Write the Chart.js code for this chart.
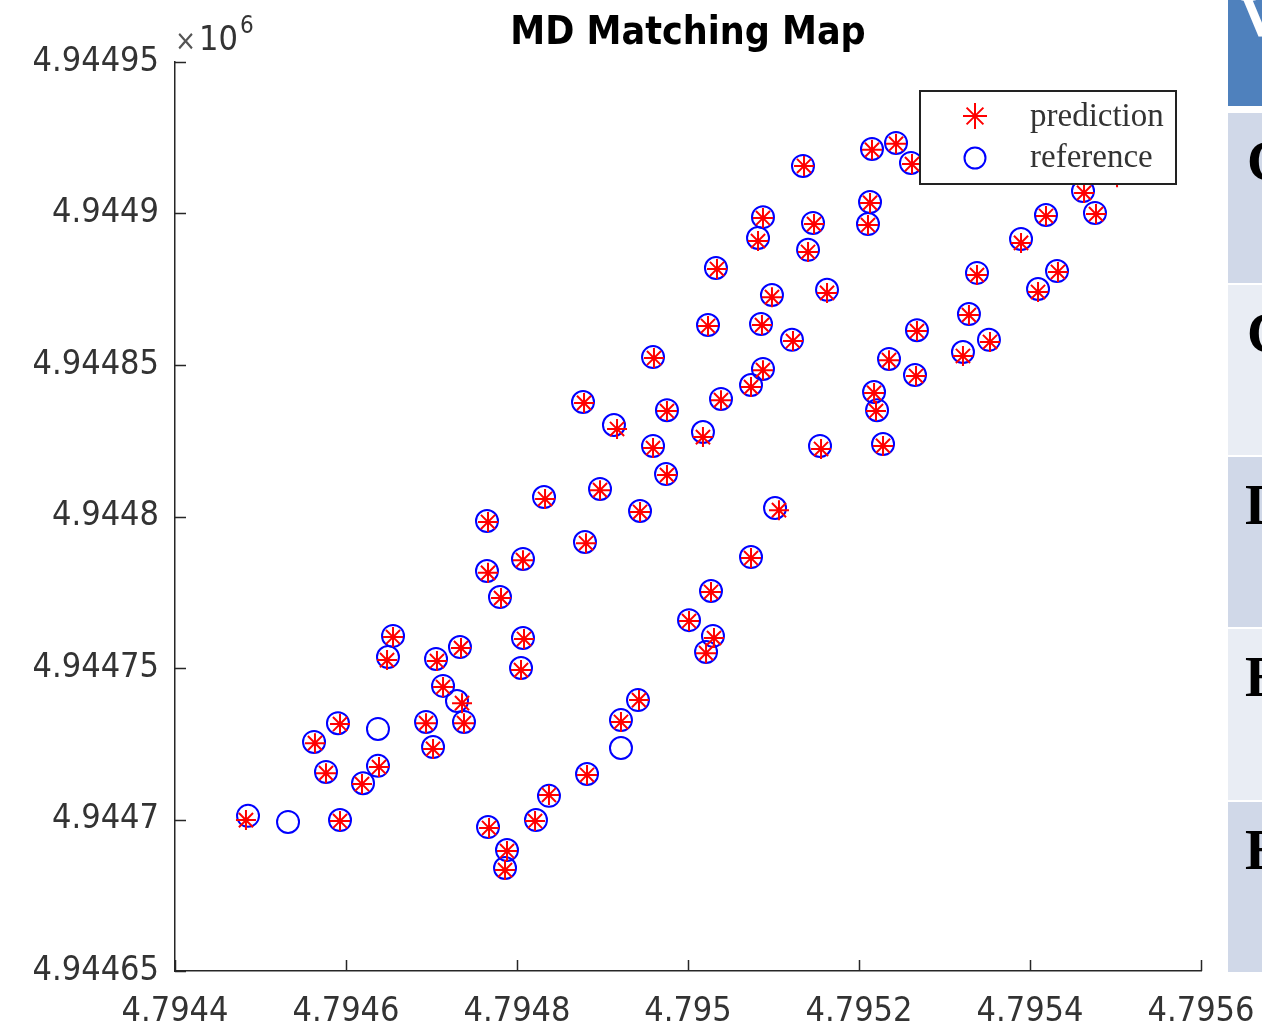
<!DOCTYPE html>
<html>
<head>
<meta charset="utf-8">
<title>MD Matching Map</title>
<script src="https://cdn.jsdelivr.net/npm/chart.js@4.4.1/dist/chart.umd.min.js"></script>
<style>
    html, body { margin: 0; padding: 0; background: #fff; }
    #wrap { position: relative; width: 1262px; height: 1026px; overflow: hidden; }
    #table { position: absolute; left: 1228px; top: 0; width: 34px; height: 972px; overflow: hidden; }
    #table div { position: absolute; left: 0; width: 200px; overflow: hidden;
        font-family: "Liberation Serif", serif; font-weight: bold; font-size: 56px; line-height: 1; }
    #table .th { top: 0; height: 106px; background: #4f81bd; color: #fff; }
    #table .r1 { background: #d0d8e8; color: #000; }
    #table .r2 { background: #e9edf4; color: #000; }
</style>
</head>
<body>
<div id="wrap">
    <canvas id="mdChart" width="1262" height="1026"></canvas>
    <div id="table">
        <div class="th"><span style="position:absolute;left:12px;top:-11px">V</span></div>
        <div class="r1" style="top:113px;height:170px"><span style="position:absolute;left:19px;top:20px">C</span></div>
        <div class="r2" style="top:285px;height:170px"><span style="position:absolute;left:19px;top:20px">C</span></div>
        <div class="r1" style="top:457px;height:170px"><span style="position:absolute;left:17px;top:20px">D</span></div>
        <div class="r2" style="top:629px;height:171px"><span style="position:absolute;left:17px;top:20px">E</span></div>
        <div class="r1" style="top:802px;height:170px"><span style="position:absolute;left:17px;top:20px">E</span></div>
    </div>
</div>
<script>
// Eksen etiketleri (x10^6 ölçeğinde)
const xTickLabels = ['4.7944', '4.7946', '4.7948', '4.795', '4.7952', '4.7954', '4.7956'];
const yTickLabels = ['4.94465', '4.9447', '4.94475', '4.9448', '4.94485', '4.9449', '4.94495'];

// reference (metre)
const refX = [
    4794485.4, 4794532.2, 4794593.0, 4794562.6, 4794576.6, 4794590.6, 4794637.4, 4794619.9, 4794637.4, 4794655.0,
    4794649.1, 4794693.6, 4794701.8, 4794705.3, 4794713.5, 4794733.3, 4794729.8, 4794738.0, 4794780.1, 4794807.0,
    4794804.7, 4794941.5, 4794921.6, 4794921.6, 4794881.9, 4794837.4, 4794822.2, 4794766.1, 4794788.3, 4794786.0,
    4794877.2, 4794913.4, 4794975.4, 4794959.1, 4794974.3, 4794897.1, 4794943.9, 4794831.6, 4794764.9, 4794879.5,
    4794807.0, 4794764.9, 4794959.1, 4795087.7, 4795081.9, 4795146.2, 4795140.4, 4795032.7, 4795098.2, 4795162.6,
    4795023.4, 4795085.4, 4795121.6, 4795087.7, 4795073.7, 4795038.6, 4795017.5, 4795154.4, 4795101.8, 4795073.7,
    4795026.9, 4795001.2, 4795029.2, 4795021.1, 4795134.5, 4795210.5, 4795212.9, 4795215.2, 4795243.3, 4795260.8,
    4795462.0, 4795476.0, 4795418.7, 4795389.5, 4795338.0, 4795431.6, 4795409.4, 4795328.6, 4795267.8, 4795352.0,
    4795235.1, 4795321.6, 4795265.5, 4795217.6, 4795221.1, 4795228.1
];
const refY = [
    4944701.2, 4944699.2, 4944699.8, 4944725.6, 4944715.7, 4944731.8, 4944729.9, 4944712.0, 4944717.7, 4944760.6,
    4944753.6, 4944732.2, 4944723.9, 4944753.0, 4944744.1, 4944756.9, 4944739.1, 4944732.2, 4944773.4, 4944759.9,
    4944750.0, 4944739.4, 4944732.8, 4944723.6, 4944715.0, 4944707.8, 4944699.8, 4944697.5, 4944689.9, 4944684.0,
    4944837.8, 4944830.2, 4944835.1, 4944823.3, 4944814.0, 4944809.1, 4944801.8, 4944806.4, 4944798.5, 4944791.6,
    4944786.0, 4944782.0, 4944852.6, 4944898.8, 4944891.9, 4944896.9, 4944888.0, 4944882.0, 4944873.1, 4944874.8,
    4944863.2, 4944863.5, 4944858.3, 4944848.7, 4944843.4, 4944838.8, 4944827.9, 4944823.3, 4944802.8, 4944786.6,
    4944775.4, 4944765.8, 4944760.6, 4944755.3, 4944915.7, 4944896.5, 4944903.8, 4944921.3, 4944923.3, 4944916.7,
    4944907.4, 4944900.2, 4944899.5, 4944891.6, 4944880.4, 4944881.0, 4944875.1, 4944866.8, 4944861.5, 4944858.3,
    4944852.0, 4944854.3, 4944846.7, 4944841.1, 4944835.1, 4944823.9
];

// prediction (metre)
const predX = [
    4794483.0, 4794593.0, 4794563.7, 4794576.6, 4794593.0, 4794618.7, 4794638.6, 4794655.0, 4794648.0, 4794693.6,
    4794701.8, 4794706.4, 4794713.5, 4794734.5, 4794735.7, 4794738.0, 4794781.3, 4794808.2, 4794804.7, 4794942.7,
    4794921.6, 4794881.9, 4794837.4, 4794821.1, 4794767.3, 4794788.3, 4794786.0, 4794878.4, 4794917.0, 4794975.4,
    4794959.1, 4794975.4, 4794897.1, 4794943.9, 4794832.8, 4794766.1, 4794880.7, 4794807.0, 4794766.1, 4794960.2,
    4795087.7, 4795081.9, 4795147.4, 4795140.4, 4795033.9, 4795098.2, 4795162.6, 4795023.4, 4795086.5, 4795122.8,
    4795087.7, 4795073.7, 4795038.6, 4795017.5, 4795155.6, 4795106.4, 4795073.7, 4795026.9, 4795001.2, 4795030.4,
    4795021.1, 4795135.7, 4795210.5, 4795212.9, 4795215.2, 4795243.3, 4795262.0, 4795463.2, 4795477.2, 4795418.7,
    4795389.5, 4795338.0, 4795432.7, 4795409.4, 4795328.6, 4795267.8, 4795353.2, 4795235.1, 4795321.6, 4795266.7,
    4795217.6, 4795219.9, 4795228.1, 4795501.8
];
const predY = [
    4944699.8, 4944699.5, 4944725.2, 4944715.3, 4944731.5, 4944711.7, 4944717.3, 4944760.2, 4944752.6, 4944731.8,
    4944723.3, 4944752.3, 4944743.7, 4944756.6, 4944738.4, 4944731.8, 4944773.1, 4944759.6, 4944749.3, 4944739.4,
    4944732.2, 4944714.7, 4944708.1, 4944699.5, 4944697.2, 4944689.6, 4944683.3, 4944837.5, 4944828.9, 4944834.8,
    4944822.6, 4944813.7, 4944808.7, 4944801.5, 4944805.8, 4944798.2, 4944791.2, 4944785.6, 4944781.4, 4944852.3,
    4944898.5, 4944890.9, 4944896.5, 4944887.3, 4944881.7, 4944872.4, 4944873.8, 4944862.9, 4944863.2, 4944857.9,
    4944848.3, 4944842.7, 4944838.4, 4944826.2, 4944822.3, 4944802.1, 4944786.3, 4944775.1, 4944765.5, 4944759.9,
    4944754.9, 4944915.7, 4944896.2, 4944903.5, 4944921.0, 4944923.0, 4944916.3, 4944906.8, 4944899.8, 4944899.2,
    4944890.3, 4944879.7, 4944880.7, 4944874.1, 4944866.5, 4944861.2, 4944857.6, 4944851.6, 4944853.0, 4944846.4,
    4944840.8, 4944834.8, 4944823.3, 4944912.0
];

const SCALE = 1e6;
const AXIS_COLOR = '#262626';
const TICK_FONT = { family: '"DejaVu Sans Condensed", "DejaVu Sans", sans-serif', size: 34 };

function zip(xs, ys) {
    return xs.map((x, i) => ({ x: x, y: ys[i] }));
}

// MATLAB tarzı içe dönük tik çizgileri, başlık, x10^6 ve legend
const matlabDecor = {
    id: 'matlabDecor',
    afterDraw(chart) {
        const ctx = chart.ctx;
        const area = chart.chartArea;
        const xs = chart.scales.x, ys = chart.scales.y;

        ctx.save();
        ctx.strokeStyle = AXIS_COLOR;
        ctx.lineWidth = 1.5;
        ctx.beginPath();
        xs.ticks.forEach(t => {
            const px = Math.round(xs.getPixelForValue(t.value)) + 0.5;
            ctx.moveTo(px, area.bottom);
            ctx.lineTo(px, area.bottom - 11);
        });
        ys.ticks.forEach(t => {
            const py = Math.round(ys.getPixelForValue(t.value)) + 0.5;
            ctx.moveTo(area.left, py);
            ctx.lineTo(area.left + 11, py);
        });
        ctx.stroke();

        // başlık
        ctx.fillStyle = '#000';
        ctx.font = 'bold 39px "DejaVu Sans Condensed", "DejaVu Sans", sans-serif';
        ctx.textAlign = 'center';
        ctx.textBaseline = 'alphabetic';
        ctx.fillText('MD Matching Map', (area.left + area.right) / 2, 44);

        // x10^6
        ctx.textAlign = 'left';
        ctx.fillStyle = '#555';
        ctx.font = '28px "DejaVu Sans Condensed", "DejaVu Sans", sans-serif';
        ctx.fillText('\u00d7', area.left, 50);
        ctx.fillStyle = '#333';
        ctx.font = '34px "DejaVu Sans Condensed", "DejaVu Sans", sans-serif';
        ctx.fillText('10', area.left + 24, 50);
        ctx.font = '24px "DejaVu Sans Condensed", "DejaVu Sans", sans-serif';
        ctx.fillText('6', area.left + 65, 33);

        // legend kutusu
        const bx = area.right - 281, by = area.top + 29, bw = 256, bh = 93;
        ctx.fillStyle = '#fff';
        ctx.fillRect(bx, by, bw, bh);
        ctx.strokeStyle = '#222';
        ctx.lineWidth = 2;
        ctx.strokeRect(bx, by, bw, bh);

        const ds = chart.data.datasets;
        const mx = bx + 55;
        // asterisk
        const sy = by + 25, r = 12;
        ctx.strokeStyle = ds[0].borderColor;
        ctx.lineWidth = 2;
        ctx.beginPath();
        ctx.moveTo(mx, sy - r - 1); ctx.lineTo(mx, sy + r + 1);
        ctx.moveTo(mx - r, sy); ctx.lineTo(mx + r, sy);
        const d = r * 0.7;
        ctx.moveTo(mx - d, sy - d); ctx.lineTo(mx + d, sy + d);
        ctx.moveTo(mx - d, sy + d); ctx.lineTo(mx + d, sy - d);
        ctx.stroke();
        // daire
        ctx.strokeStyle = ds[1].borderColor;
        ctx.beginPath();
        ctx.arc(mx, by + 67, 10.5, 0, Math.PI * 2);
        ctx.stroke();

        ctx.fillStyle = '#333';
        ctx.font = '33px "Liberation Serif", "Times New Roman", serif';
        ctx.fillText(ds[0].label, bx + 110, by + 35);
        ctx.fillText(ds[1].label, bx + 110, by + 76);
        ctx.restore();
    }
};

document.addEventListener('DOMContentLoaded', function() {
    const ctx = document.getElementById('mdChart').getContext('2d');

    new Chart(ctx, {
        type: 'scatter',
        data: {
            datasets: [{
                label: 'prediction',
                data: zip(predX, predY),
                pointStyle: 'star',
                pointRadius: 10,
                borderColor: '#ff0000',
                backgroundColor: '#ff0000',
                borderWidth: 2
            }, {
                label: 'reference',
                data: zip(refX, refY),
                pointStyle: 'circle',
                pointRadius: 11,
                borderColor: '#0000ff',
                backgroundColor: 'rgba(0,0,0,0)',
                borderWidth: 2
            }]
        },
        options: {
            responsive: false,
            animation: false,
            events: [],
            layout: { padding: { top: 62, right: 61, left: 0, bottom: 0 } },
            plugins: {
                legend: { display: false },
                tooltip: { enabled: false },
                title: { display: false }
            },
            scales: {
                x: {
                    type: 'linear',
                    min: parseFloat(xTickLabels[0]) * SCALE,
                    max: parseFloat(xTickLabels[xTickLabels.length - 1]) * SCALE,
                    afterBuildTicks: s => { s.ticks = xTickLabels.map(l => ({ value: parseFloat(l) * SCALE })); },
                    afterFit: s => { s.height = 55; s.paddingLeft = 0; s.paddingRight = 0; },
                    grid: { display: false },
                    border: { display: true, color: AXIS_COLOR, width: 1.5 },
                    ticks: {
                        color: '#333',
                        font: TICK_FONT,
                        padding: 13,
                        maxRotation: 0,
                        autoSkip: false,
                        callback: (v, i) => xTickLabels[i]
                    }
                },
                y: {
                    type: 'linear',
                    min: parseFloat(yTickLabels[0]) * SCALE,
                    max: parseFloat(yTickLabels[yTickLabels.length - 1]) * SCALE,
                    afterBuildTicks: s => { s.ticks = yTickLabels.map(l => ({ value: parseFloat(l) * SCALE })); },
                    afterFit: s => { s.width = 175; s.paddingTop = 0; s.paddingBottom = 0; },
                    grid: { display: false },
                    border: { display: true, color: AXIS_COLOR, width: 1.5 },
                    ticks: {
                        color: '#333',
                        font: TICK_FONT,
                        padding: 8,
                        autoSkip: false,
                        callback: (v, i) => yTickLabels[i]
                    }
                }
            }
        },
        plugins: [matlabDecor]
    });
});
</script>
</body>
</html>
